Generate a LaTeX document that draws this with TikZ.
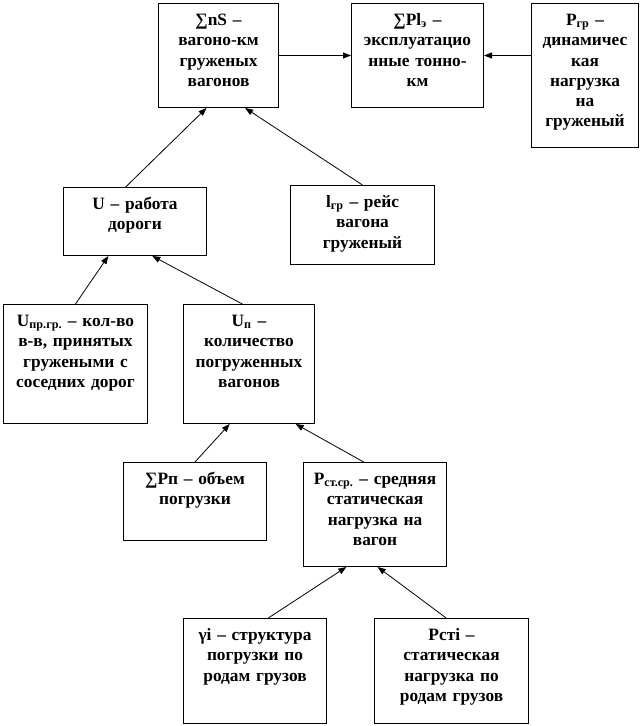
\documentclass[tikz,border=0pt]{standalone}
\usepackage{fontspec}
\setmainfont{Liberation Serif}
\usepackage{tikz}
\usetikzlibrary{positioning,arrows.meta}

\begin{document}
\begin{tikzpicture}[x=0.75pt, y=-0.75pt,
            every node/.append style = {font=\bfseries\fontsize{13}{15.2}\selectfont},
            blk/.style 2 args = {draw, line width=0.75pt, anchor=north west, inner sep=0pt, align=center,
                text width=#1, text height=16.5pt, text depth=#2},
            arr/.style = {-{Triangle[length=6pt,width=4.5pt]}, line width=0.6pt}]
            \useasboundingbox (0,0) rectangle (642,726);
            \node[blk={90pt}{61.5pt}] (nS) at (158,3) {∑nS –\\вагоно-км\\груженых\\вагонов};
            \node[blk={99pt}{61.5pt}] (Pl) at (351,3) {∑Pl\textsubscript{э} –\\эксплуатацио\\нные тонно-\\км};
            \node[blk={80.25pt}{91.5pt}] (Pgr) at (531,3) {P\textsubscript{гр} –\\динамичес\\кая\\нагрузка\\на\\груженый};
            \node[blk={107.25pt}{34.5pt}] (U) at (63,187) {U – работа\\дороги};
            \node[blk={108pt}{42.75pt}] (lgr) at (290,185) {l\textsubscript{гр} – рейс\\вагона\\груженый};
            \node[blk={108pt}{72.75pt}] (Upr) at (3,304) {U\textsubscript{пр.гр.} – кол-во\\в-в, принятых\\гружеными с\\соседних дорог};
            \node[blk={98.25pt}{72.75pt}] (Up) at (183,304) {U\textsubscript{п} –\\количество\\погруженных\\вагонов};
            \node[blk={107.25pt}{42pt}] (Pp) at (123,462) {∑Pп – объем\\погрузки};
            \node[blk={107.25pt}{61.5pt}] (Pst) at (303,462) {P\textsubscript{ст.ср.} – средняя\\статическая\\нагрузка на\\вагон};
            \node[blk={107.25pt}{62.25pt}] (gi) at (183,618) {γi – структура\\погрузки по\\родам грузов};
            \node[blk={115.5pt}{62.25pt}] (Psti) at (374,618) {Pстi –\\статическая\\нагрузка по\\родам грузов};
            \draw[arr] (nS.east) -- (Pl.west);
            \draw[arr] (Pgr.west |- Pl.east) -- (Pl.east);
            \draw[arr] ([xshift=-7pt]U.north) -- ([xshift=-9pt]nS.south);
            \draw[arr] (lgr.north) -- ([xshift=20pt]nS.south);
            \draw[arr] (Upr.north) -- ([xshift=-20pt]U.south);
            \draw[arr] ([xshift=-5pt]Up.north) -- ([xshift=13pt]U.south);
            \draw[arr] (Pp.north) -- ([xshift=-14.5pt]Up.south);
            \draw[arr] ([xshift=-8.5pt]Pst.north) -- ([xshift=35pt]Up.south);
            \draw[arr] ([xshift=10pt]gi.north) -- ([xshift=-21.5pt]Pst.south);
            \draw[arr] ([xshift=-4pt]Psti.north) -- ([xshift=2pt]Pst.south);
        \end{tikzpicture}
\end{document}
